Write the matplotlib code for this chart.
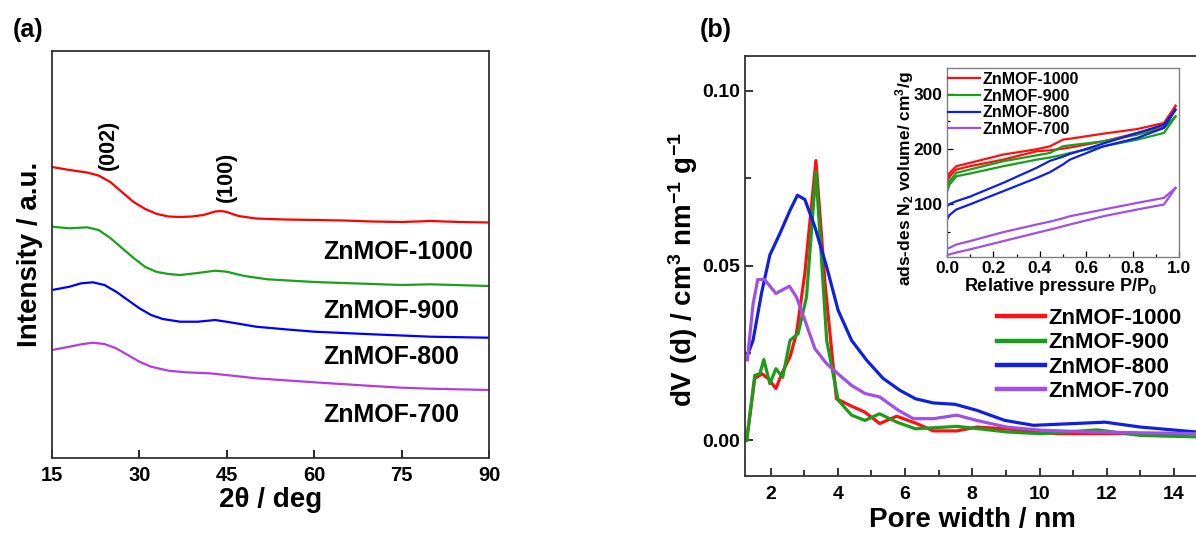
import numpy as np
import matplotlib
matplotlib.use("Agg")
import matplotlib.pyplot as plt
from matplotlib.ticker import MultipleLocator

plt.rcParams['font.family'] = ['Liberation Sans', 'DejaVu Sans']
plt.rcParams['font.weight'] = 'bold'
plt.rcParams['mathtext.fontset'] = 'custom'
plt.rcParams['mathtext.rm'] = 'Liberation Sans:bold'
plt.rcParams['mathtext.it'] = 'Liberation Sans:bold:italic'
plt.rcParams['mathtext.bf'] = 'Liberation Sans:bold'

# ---- (a) XRD patterns (stacked, arbitrary units) ----
xrd_x_1000 = [15, 18, 21, 23, 25, 27, 29, 31, 33, 35, 37, 39, 41, 43, 44, 45, 47, 50, 55, 60, 65, 70, 75, 80, 85, 90]
xrd_y_1000 = [291, 288, 285.5, 282.5, 276, 266, 256, 249, 244, 241.5, 241, 241.5, 243, 246.5, 247, 246, 242,
              239.5, 238.5, 238, 237.5, 236.5, 236, 237, 236, 235.5]
xrd_x_900 = [15, 18, 21, 23, 25, 27, 29, 31, 33, 35, 37, 40, 43, 45, 48, 52, 60, 70, 75, 80, 90]
xrd_y_900 = [231.3, 229.7, 230.7, 228, 220, 210, 200, 191, 186, 184, 183, 185, 187.3, 186.3, 182, 178.7,
             176, 174, 173, 173.7, 172]
xrd_x_800 = [15, 18, 20, 22, 24, 26, 28, 30, 32, 34, 37, 40, 43, 46, 50, 55, 60, 70, 80, 90]
xrd_y_800 = [168, 171.3, 174.7, 175.7, 173, 166.3, 158, 149.7, 143, 139, 136.3, 136.3, 138, 135.3, 131.3,
             128.7, 126.3, 123.7, 121.3, 120.3]
xrd_x_700 = [15, 18, 20, 22, 24, 26, 28, 30, 32, 35, 38, 42, 46, 50, 60, 70, 75, 80, 90]
xrd_y_700 = [108, 111.3, 113.7, 115.3, 114, 109.7, 103, 96.3, 91.3, 87.3, 85.7, 84.7, 82.3, 79.7, 75.7,
             72, 70.3, 69.3, 68]

# ---- (b) pore size distribution ----
psd_x_1000 = [1.29, 1.53, 1.75, 1.95, 2.16, 2.33, 2.58, 2.77, 3.02, 3.35, 3.62, 3.96, 4.36, 4.8, 5.25, 5.75,
              6.35, 6.84, 7.54, 8.13, 9.0, 10.5, 12.0, 14.66]
psd_y_1000 = [0.0, 0.0177, 0.019, 0.0175, 0.0148, 0.019, 0.0239, 0.0305, 0.0477, 0.080, 0.045, 0.0119,
              0.010, 0.0081, 0.0048, 0.0069, 0.0048, 0.0027, 0.0027, 0.0038, 0.0033, 0.0019, 0.0019, 0.002]
psd_x_900 = [1.29, 1.53, 1.68, 1.8, 1.98, 2.16, 2.36, 2.58, 2.82, 3.07, 3.35, 3.67, 4.01, 4.41, 4.81, 5.24,
             5.76, 6.31, 7.55, 9.04, 10.03, 11.72, 13.0, 14.66]
psd_y_900 = [0.0, 0.0186, 0.019, 0.0231, 0.0162, 0.0205, 0.018, 0.0286, 0.0305, 0.041, 0.0768, 0.0286,
             0.0115, 0.0072, 0.0057, 0.0076, 0.0052, 0.0033, 0.004, 0.0024, 0.0019, 0.003, 0.0014, 0.001]
psd_x_800 = [1.33, 1.48, 1.73, 1.98, 2.28, 2.58, 2.8, 3.02, 3.32, 3.67, 4.01, 4.41, 4.86, 5.35, 5.85, 6.31,
             6.84, 7.49, 8.13, 8.97, 9.82, 11.01, 11.95, 13.0, 14.66]
psd_y_800 = [0.0248, 0.0286, 0.042, 0.053, 0.0592, 0.0658, 0.0701, 0.0689, 0.061, 0.0496, 0.0372, 0.0286,
             0.0229, 0.0177, 0.0143, 0.0119, 0.0107, 0.0103, 0.0086, 0.0057, 0.0043, 0.0048, 0.0052,
             0.0038, 0.0024]
psd_x_700 = [1.31, 1.48, 1.62, 1.82, 2.16, 2.56, 2.77, 3.02, 3.32, 3.67, 4.01, 4.41, 4.81, 5.25, 5.8, 6.25,
             6.84, 7.54, 8.13, 9.02, 10.03, 11.51, 14.66]
psd_y_700 = [0.023, 0.039, 0.046, 0.046, 0.042, 0.0441, 0.041, 0.0344, 0.0262, 0.0219, 0.019, 0.0157,
             0.0134, 0.0124, 0.0086, 0.0062, 0.0062, 0.0072, 0.0057, 0.0038, 0.0029, 0.0024, 0.0019]

# ---- inset: N2 isotherms (adsorption / desorption branches) ----
iso_p = [0.0, 0.01, 0.04, 0.098, 0.242, 0.387, 0.444, 0.5, 0.53, 0.675, 0.82, 0.935, 0.985]
iso_ads_1000 = [140, 150, 162.7, 168.7, 180.7, 195.8, 197.5, 200.5, 202.5, 213.9, 228.9, 239.8, 278]
iso_des_1000 = [146, 156, 168.7, 174.7, 189.8, 199.5, 204.8, 216.9, 218.5, 227.7, 236, 247, 278]
iso_ads_900 = [122, 135, 150.6, 155.4, 168.7, 180.7, 184.5, 189.5, 192.8, 204.8, 216.9, 228.9, 259]
iso_des_900 = [128, 141, 156.6, 162.7, 177.7, 188.5, 192.8, 204.8, 206.5, 213.9, 225.9, 238, 259]
iso_ads_800 = [72, 80, 90.4, 99.5, 123.5, 147.6, 158, 172, 180.7, 204.8, 219.9, 238, 271]
iso_des_800 = [96, 100, 105.4, 113.5, 138.6, 166, 178.5, 186, 191, 210, 228.9, 244, 271]
iso_ads_700 = [7.8, 9, 12.5, 18.1, 33.1, 48.2, 54, 60, 63.3, 78.3, 90.4, 99.4, 129.5]
iso_des_700 = [19.3, 21, 27, 33.1, 49.4, 63.3, 68.5, 74.5, 78.3, 90.4, 102.4, 111.4, 129.5]

labels = ['ZnMOF-1000', 'ZnMOF-900', 'ZnMOF-800', 'ZnMOF-700']
col_a = ['#ff0000', '#1aa01a', '#0000ff', '#b43ce0']
col_b = ['#ff1010', '#1a9e1a', '#1020e0', '#a050e6']

fig = plt.figure(figsize=(11.96, 5.33), dpi=100)

# ===== panel (a) =====
ax1 = fig.add_axes([0.0435, 0.1407, 0.3654, 0.7636])
for xs, ys, c in zip([xrd_x_1000, xrd_x_900, xrd_x_800, xrd_x_700],
                     [xrd_y_1000, xrd_y_900, xrd_y_800, xrd_y_700], col_a):
    ax1.plot(xs, ys, color=c, lw=1.6)
ax1.set_xlim(15, 90)
ax1.set_ylim(0, 407)
ax1.set_xticks([15, 30, 45, 60, 75, 90])
ax1.set_yticks([])
ax1.tick_params(axis='x', direction='in', length=6, width=1.2, labelsize=14.5, pad=6)
for s in ax1.spines.values():
    s.set_color('#333333')
    s.set_linewidth(1.3)
ax1.set_xlabel('2θ / deg', fontsize=20, fontweight='bold')
ax1.xaxis.set_label_coords(0.5, -0.103)
ax1.xaxis.label.set_va('center')
ax1.set_ylabel('Intensity / a.u.', fontsize=20, fontweight='bold')
ax1.yaxis.set_label_coords(-0.05, 0.5)
ax1.yaxis.label.set_va('center')
for lab, yy in zip(labels, [206, 147, 101, 43]):
    ax1.text(61.5, yy, lab, fontsize=18, fontweight='bold', ha='left', va='center')
ax1.text(24.6, 313, '(002)', fontsize=15.5, fontweight='bold', rotation=90, ha='center', va='center')
ax1.text(45.0, 281, '(100)', fontsize=15.5, fontweight='bold', rotation=90, ha='center', va='center')

# ===== panel (b) =====
ax2 = fig.add_axes([0.6229, 0.1069, 0.3868, 0.7886])
for xs, ys, c, lab in zip([psd_x_1000, psd_x_900, psd_x_800, psd_x_700],
                          [psd_y_1000, psd_y_900, psd_y_800, psd_y_700], col_b, labels):
    ax2.plot(xs, ys, color=c, lw=2.3, label=lab)
ax2.set_xlim(1.24, 15)
ax2.set_ylim(-0.0102, 0.110)
ax2.set_xticks([2, 4, 6, 8, 10, 12, 14])
ax2.set_yticks([0.0, 0.05, 0.10])
ax2.set_yticklabels(['0.00', '0.05', '0.10'])
ax2.xaxis.set_minor_locator(MultipleLocator(1))
ax2.yaxis.set_minor_locator(MultipleLocator(0.025))
ax2.tick_params(which='both', direction='in', width=1.1, labelsize=14)
ax2.tick_params(which='major', length=6)
ax2.tick_params(which='minor', length=4)
ax2.tick_params(axis='x', pad=7)
for s in ax2.spines.values():
    s.set_color('#333333')
    s.set_linewidth(1.3)
ax2.set_xlabel('Pore width / nm', fontsize=20, fontweight='bold')
ax2.xaxis.set_label_coords(0.491, -0.105)
ax2.xaxis.label.set_va('center')
ax2.set_ylabel('dV (d) / cm$^{3}$ nm$^{-1}$ g$^{-1}$', fontsize=20, fontweight='bold')
ax2.yaxis.set_label_coords(-0.134, 0.49)
ax2.yaxis.label.set_va('center')
ax2.legend(loc='upper left', bbox_to_anchor=(997 / 1196, 1 - 308 / 533), bbox_transform=fig.transFigure,
           frameon=False, handlelength=2.15, handletextpad=0.15, labelspacing=0.15,
           borderpad=0, borderaxespad=0, prop={'weight': 'bold', 'size': 16})
for ln in ax2.get_legend().get_lines():
    ln.set_linewidth(3.2)

# ===== inset =====
ax3 = fig.add_axes([0.7918, 0.5184, 0.194, 0.3535])
iso_sets = [(iso_ads_1000, iso_des_1000), (iso_ads_900, iso_des_900),
            (iso_ads_800, iso_des_800), (iso_ads_700, iso_des_700)]
for (ads, des), c, lab in zip(iso_sets, col_b, labels):
    ax3.plot(iso_p, ads, color=c, lw=1.6, label=lab)
    ax3.plot(iso_p, des, color=c, lw=1.6)
ax3.set_xlim(0, 1.0)
ax3.set_ylim(5, 346)
ax3.set_xticks([0.0, 0.2, 0.4, 0.6, 0.8, 1.0])
ax3.set_yticks([100, 200, 300])
ax3.xaxis.set_minor_locator(MultipleLocator(0.1))
ax3.yaxis.set_minor_locator(MultipleLocator(50))
ax3.tick_params(which='both', direction='in', width=0.9, labelsize=12.5, pad=3)
ax3.tick_params(which='major', length=4)
ax3.tick_params(which='minor', length=2.5)
for s in ax3.spines.values():
    s.set_color('#808080')
    s.set_linewidth(1.0)
ax3.set_xlabel('Relative pressure P/P$_0$', fontsize=13, fontweight='bold')
ax3.xaxis.set_label_coords(0.487, -0.156)
ax3.xaxis.label.set_va('center')
ax3.set_ylabel('ads-des N$_2$ volume/ cm$^3$/g', fontsize=12.5, fontweight='bold')
ax3.yaxis.set_label_coords(-0.181, 0.415)
ax3.yaxis.label.set_va('center')
ax3.legend(loc='upper left', bbox_to_anchor=(948 / 1196, 1 - 72 / 533), bbox_transform=fig.transFigure,
           frameon=False, handlelength=2.0, handletextpad=0.15, labelspacing=0.1,
           borderpad=0, borderaxespad=0, prop={'weight': 'bold', 'size': 11.5})

fig.text(28 / 1196, 1 - 30 / 533, '(a)', fontsize=18, fontweight='bold', ha='center', va='center')
fig.text(716 / 1196, 1 - 30 / 533, '(b)', fontsize=18, fontweight='bold', ha='center', va='center')

fig.savefig('out.png', dpi=100)
